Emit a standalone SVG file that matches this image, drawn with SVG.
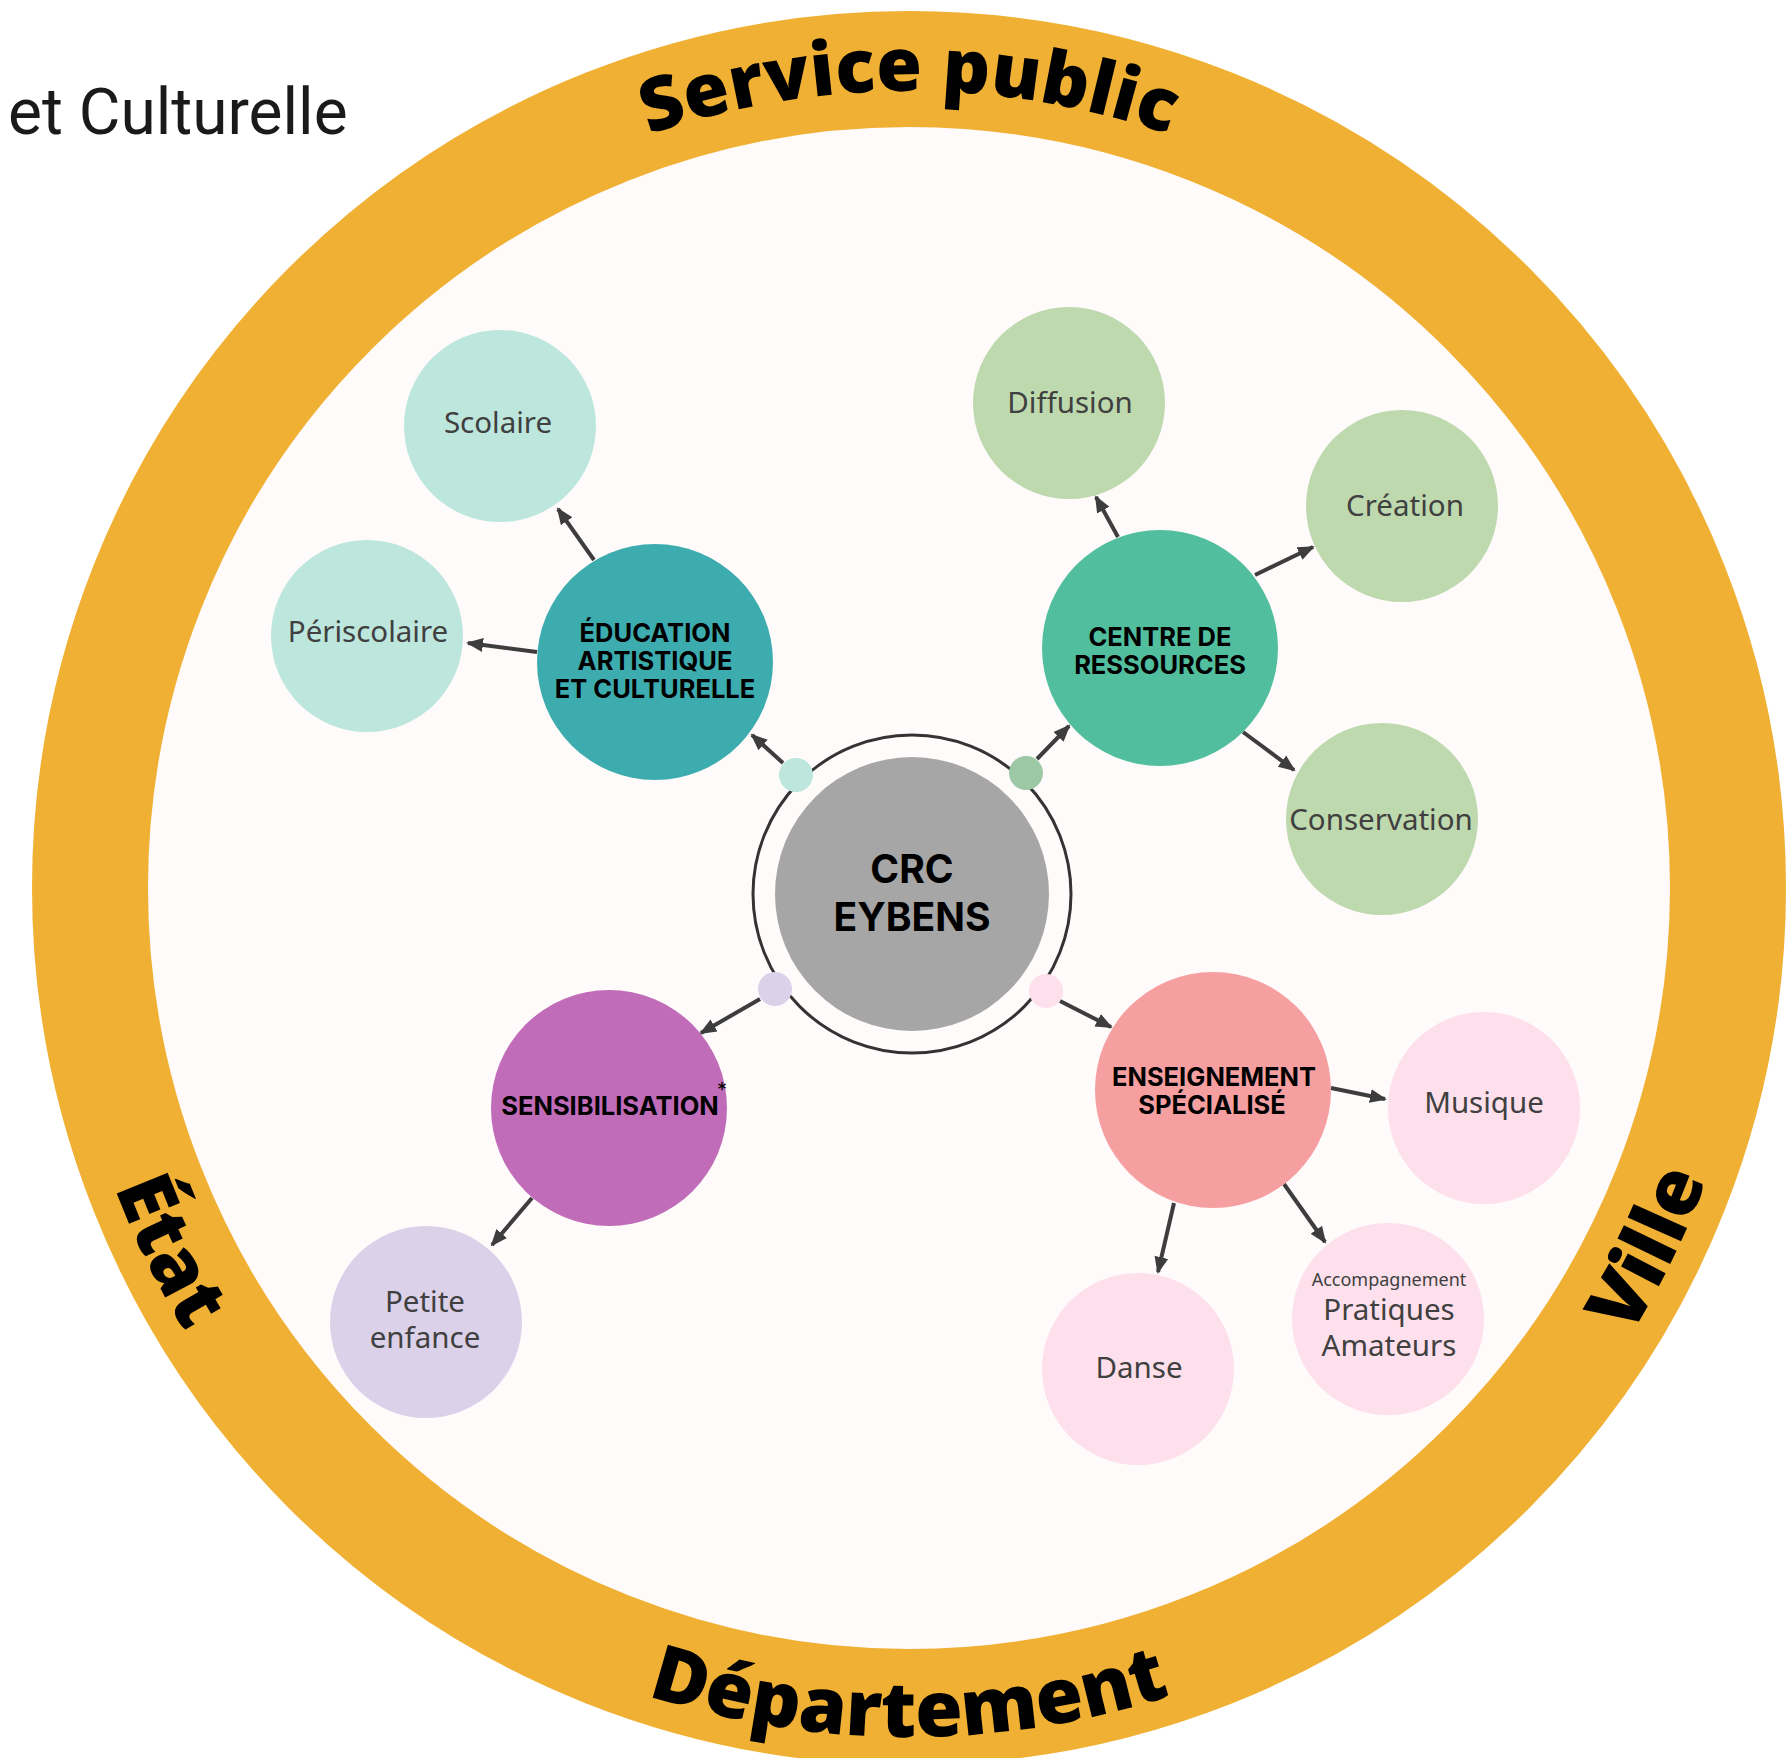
<svg xmlns="http://www.w3.org/2000/svg" width="1787" height="1758" viewBox="0 0 1787 1758">
  <defs>
    <style>
      .ring-text { font-family: "Open Sans", "Noto Sans", sans-serif; font-weight: 800; font-size: 77px; fill: #000; }
      .hub { font-family: Inter, "Liberation Sans", sans-serif; font-weight: 700; font-size: 25.5px; fill: #000; text-anchor: middle; }
      .core { font-family: Inter, "Liberation Sans", sans-serif; font-weight: 700; font-size: 39px; fill: #000; text-anchor: middle; }
      .leaf { font-family: "Noto Sans", "Liberation Sans", sans-serif; font-size: 29.5px; fill: #404040; text-anchor: middle; }
      .leaf-small { font-family: "Noto Sans", "Liberation Sans", sans-serif; font-size: 18px; fill: #404040; text-anchor: middle; }
      .conn { stroke: #3d3d3d; stroke-width: 4; fill: none; marker-end: url(#arrow); }
    </style>
    <marker id="arrow" markerUnits="userSpaceOnUse" markerWidth="18" markerHeight="16" refX="15" refY="8" orient="auto">
      <path d="M0,1 L17,8 L0,15 z" fill="#3d3d3d"/>
    </marker>
    <!-- arcs used as baselines for the ring labels -->
    <path id="arcTop" d="M112,888 A797,797 0 0 1 1706,888"/>
    <path id="arcBottom" d="M60,888 A849,849 0 0 0 1758,888"/>
  </defs>

  <rect width="1787" height="1758" fill="#ffffff"/>

  <!-- outer band -->
  <g id="ring">
    <circle cx="909" cy="888" r="819" fill="#fffbfb" stroke="#f0b033" stroke-width="116"/>
    <text class="ring-text" style="font-size:74px"><textPath href="#arcTop" startOffset="50%" text-anchor="middle">Service public</textPath></text>
    <text class="ring-text"><textPath href="#arcBottom" startOffset="50%" text-anchor="middle">Département</textPath></text>
    <text class="ring-text"><textPath href="#arcBottom" startOffset="387" text-anchor="middle">État</textPath></text>
    <text class="ring-text"><textPath href="#arcBottom" startOffset="2282" text-anchor="middle">Ville</textPath></text>
  </g>

  <text x="8" y="134" font-family="Roboto, 'Liberation Sans', sans-serif" font-size="64" fill="#1a1a1a">et Culturelle</text>

  <!-- connectors -->
  <g id="connectors">
    <line class="conn" x1="594" y1="560" x2="558" y2="509"/>
    <line class="conn" x1="537" y1="652" x2="468" y2="643"/>
    <line class="conn" x1="783" y1="763" x2="752" y2="735"/>
    <line class="conn" x1="1037" y1="759" x2="1069" y2="726"/>
    <line class="conn" x1="1118" y1="537" x2="1096" y2="497"/>
    <line class="conn" x1="1255" y1="575" x2="1313" y2="547"/>
    <line class="conn" x1="1243" y1="732" x2="1294" y2="770"/>
    <line class="conn" x1="760" y1="999" x2="701" y2="1033"/>
    <line class="conn" x1="532" y1="1198" x2="492" y2="1245"/>
    <line class="conn" x1="1060" y1="1001" x2="1111" y2="1027"/>
    <line class="conn" x1="1331" y1="1088" x2="1385" y2="1099"/>
    <line class="conn" x1="1174" y1="1203" x2="1158" y2="1272"/>
    <line class="conn" x1="1284" y1="1184" x2="1325" y2="1242"/>
  </g>

  <!-- core -->
  <g id="crc">
    <circle cx="912" cy="894" r="159" fill="none" stroke="#333333" stroke-width="3"/>
    <circle cx="912" cy="894" r="137" fill="#a6a6a6"/>
    <text class="core" x="912" y="883">CRC</text>
    <text class="core" x="912" y="931">EYBENS</text>
  </g>

  <g id="dot-eac"><circle cx="796" cy="775" r="17" fill="#bde6dd"/></g>
  <g id="dot-ressources"><circle cx="1026" cy="773" r="17" fill="#9dc8a6"/></g>
  <g id="dot-sensibilisation"><circle cx="775" cy="989" r="17" fill="#dbd1e9"/></g>
  <g id="dot-enseignement"><circle cx="1046" cy="991" r="17" fill="#fde0ec"/></g>

  <!-- main branches -->
  <g id="eac">
    <circle cx="655" cy="662" r="118" fill="#3dacaf"/>
    <text class="hub" x="655" y="642">ÉDUCATION</text>
    <text class="hub" x="655" y="670">ARTISTIQUE</text>
    <text class="hub" x="655" y="698">ET CULTURELLE</text>
  </g>
  <g id="ressources">
    <circle cx="1160" cy="648" r="118" fill="#51be9e"/>
    <text class="hub" x="1160" y="646">CENTRE DE</text>
    <text class="hub" x="1160" y="674">RESSOURCES</text>
  </g>
  <g id="sensibilisation">
    <circle cx="609" cy="1108" r="118" fill="#c06cb9"/>
    <text class="hub" x="610" y="1115">SENSIBILISATION</text>
    <text x="722" y="1097" font-family="Inter, 'Liberation Sans', sans-serif" font-size="20" fill="#000" text-anchor="middle">*</text>
  </g>
  <g id="enseignement">
    <circle cx="1213" cy="1090" r="118" fill="#f69fa1"/>
    <text class="hub" x="1214" y="1086">ENSEIGNEMENT</text>
    <text class="hub" x="1212" y="1114">SPÉCIALISÉ</text>
  </g>

  <!-- leaves -->
  <g id="scolaire">
    <circle cx="500" cy="426" r="96" fill="#bde6dd"/>
    <text class="leaf" x="498" y="433">Scolaire</text>
  </g>
  <g id="periscolaire">
    <circle cx="367" cy="636" r="96" fill="#bde6dd"/>
    <text class="leaf" x="368" y="642">Périscolaire</text>
  </g>
  <g id="diffusion">
    <circle cx="1069" cy="403" r="96" fill="#bfd9af"/>
    <text class="leaf" x="1070" y="413">Diffusion</text>
  </g>
  <g id="creation">
    <circle cx="1402" cy="506" r="96" fill="#bfd9af"/>
    <text class="leaf" x="1405" y="516">Création</text>
  </g>
  <g id="conservation">
    <circle cx="1382" cy="819" r="96" fill="#bfd9af"/>
    <text class="leaf" x="1381" y="830">Conservation</text>
  </g>
  <g id="petite-enfance">
    <circle cx="426" cy="1322" r="96" fill="#dbd1e9"/>
    <text class="leaf" x="425" y="1312">Petite</text>
    <text class="leaf" x="425" y="1348">enfance</text>
  </g>
  <g id="musique">
    <circle cx="1484" cy="1108" r="96" fill="#fde0ec"/>
    <text class="leaf" x="1484" y="1113">Musique</text>
  </g>
  <g id="danse">
    <circle cx="1138" cy="1369" r="96" fill="#fde0ec"/>
    <text class="leaf" x="1139" y="1378">Danse</text>
  </g>
  <g id="pratiques-amateurs">
    <circle cx="1388" cy="1319" r="96" fill="#fde0ec"/>
    <text class="leaf-small" x="1389" y="1286">Accompagnement</text>
    <text class="leaf" x="1389" y="1320">Pratiques</text>
    <text class="leaf" x="1389" y="1356">Amateurs</text>
  </g>
</svg>
